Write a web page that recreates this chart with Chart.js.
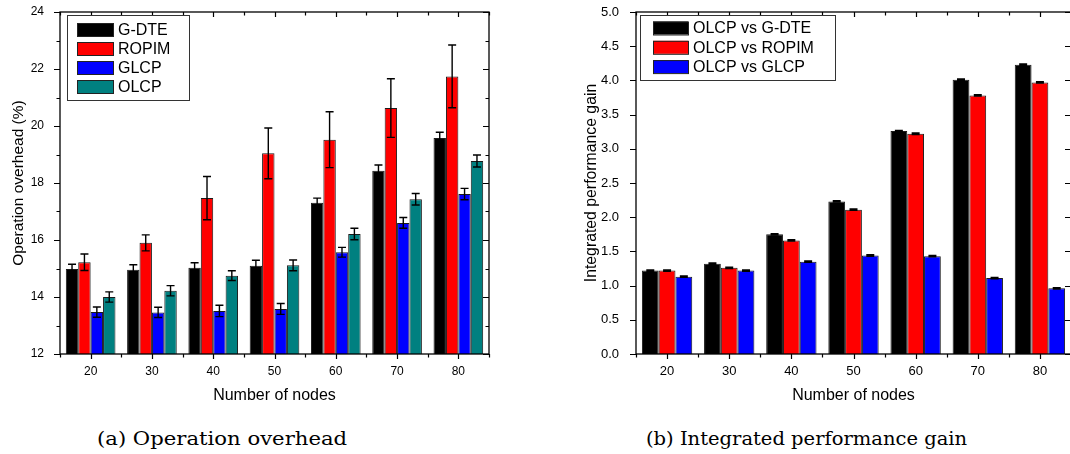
<!DOCTYPE html>
<html>
<head>
<meta charset="utf-8">
<script src="https://cdn.jsdelivr.net/npm/chart.js@4.4.1/dist/chart.umd.min.js"></script>
<style>
  html, body { margin: 0; padding: 0; background: #fff; overflow: hidden; }
  body { width: 1070px; height: 454px; position: relative; }
  .panel { position: absolute; top: 0; height: 410px; }
  #panel-a { left: 0; width: 540px; }
  #panel-b { left: 540px; width: 545px; }
  .caption {
    position: absolute; top: 428px; white-space: nowrap;
    font-family: "DejaVu Serif", "Liberation Serif", serif; font-size: 18px; color: #000;
    transform-origin: left center;
  }
</style>
</head>
<body>
<div class="panel" id="panel-a"><canvas id="overheadChart"></canvas></div>
<div class="panel" id="panel-b"><canvas id="gainChart"></canvas></div>
<div class="caption" id="cap-a" data-left="97" data-right="347">(a) Operation overhead</div>
<div class="caption" id="cap-b" data-left="646" data-right="967">(b) Integrated performance gain</div>

<script>
const nodes = ['20', '30', '40', '50', '60', '70', '80'];

// Operation overhead (%) with error bars
const gdte     = [14.98, 14.96, 15.03, 15.10, 17.31, 18.43, 19.58];
const gdteErr  = [0.17, 0.17, 0.17, 0.19, 0.16, 0.20, 0.20];
const ropim    = [15.22, 15.90, 17.47, 19.04, 19.52, 20.63, 21.74];
const ropimErr = [0.29, 0.28, 0.76, 0.89, 0.98, 1.03, 1.10];
const glcp     = [13.47, 13.46, 13.51, 13.58, 15.57, 16.60, 17.61];
const glcpErr  = [0.18, 0.18, 0.20, 0.19, 0.17, 0.19, 0.20];
const olcp     = [14.00, 14.22, 14.75, 15.11, 16.21, 17.43, 18.77];
const olcpErr  = [0.18, 0.18, 0.17, 0.19, 0.20, 0.20, 0.21];

// Integrated performance gain of OLCP
const gainGdte  = [1.22, 1.32, 1.75, 2.23, 3.26, 4.01, 4.23];
const gainRopim = [1.22, 1.26, 1.66, 2.11, 3.22, 3.78, 3.97];
const gainGlcp  = [1.13, 1.22, 1.35, 1.44, 1.43, 1.11, 0.96];
const gainErr   = [0.01, 0.01, 0.01, 0.01, 0.01, 0.01, 0.01];

const FONT = '"Liberation Sans", Arial, sans-serif';

// frame box, tick marks on all four sides, error bars and the inset legend
const framePlugin = {
    id: 'frame',
    afterDatasetsDraw(chart) {
        const ctx = chart.ctx;
        const y = chart.scales.y;
        ctx.save();
        ctx.strokeStyle = '#000';
        ctx.lineWidth = 1.4;
        chart.data.datasets.forEach((ds, i) => {
            if (!ds.errorBars) return;
            chart.getDatasetMeta(i).data.forEach((bar, j) => {
                const top = y.getPixelForValue(ds.data[j] + ds.errorBars[j]);
                const bot = y.getPixelForValue(ds.data[j] - ds.errorBars[j]);
                ctx.beginPath();
                ctx.moveTo(bar.x, top); ctx.lineTo(bar.x, bot);
                ctx.moveTo(bar.x - 4, top); ctx.lineTo(bar.x + 4, top);
                ctx.moveTo(bar.x - 4, bot); ctx.lineTo(bar.x + 4, bot);
                ctx.stroke();
            });
        });
        ctx.restore();
    },
    afterDraw(chart, args, opts) {
        const ctx = chart.ctx;
        const {left, right, top, bottom} = chart.chartArea;
        const x = chart.scales.x;
        const y = chart.scales.y;
        ctx.save();
        ctx.strokeStyle = '#000';
        ctx.lineWidth = 1.3;
        ctx.strokeRect(left, top, right - left, bottom - top);

        ctx.lineWidth = 1.2;
        ctx.beginPath();
        y.ticks.forEach(t => {
            const py = Math.round(y.getPixelForValue(t.value)) + 0.5;
            const major = Math.abs(t.value / opts.majorStep - Math.round(t.value / opts.majorStep)) < 1e-6;
            const len = major ? 6 : 3.5;
            ctx.moveTo(left - len, py); ctx.lineTo(left, py);
            ctx.moveTo(right, py); ctx.lineTo(right - len, py);
        });
        const n = chart.data.labels.length;
        for (let k = 0; k <= 2 * n; k++) {
            const px = Math.round(x.getPixelForValue(k / 2 - 0.5)) + 0.5;
            const len = k % 2 ? 5 : 3.5;
            ctx.moveTo(px, bottom); ctx.lineTo(px, bottom + len);
            ctx.moveTo(px, top); ctx.lineTo(px, top + len);
        }
        ctx.stroke();

        // legend
        const lg = opts.legend;
        ctx.fillStyle = '#fff';
        ctx.fillRect(lg.x, lg.y, lg.w, lg.h);
        ctx.strokeStyle = '#333';
        ctx.lineWidth = 1;
        ctx.strokeRect(lg.x + 0.5, lg.y + 0.5, lg.w, lg.h);
        ctx.font = '16px ' + FONT;
        ctx.textBaseline = 'middle';
        chart.data.datasets.forEach((ds, i) => {
            const cy = lg.y + lg.first + i * lg.row;
            ctx.fillStyle = ds.backgroundColor;
            ctx.fillRect(lg.sx, cy - 6.5, lg.sw, 13);
            ctx.strokeStyle = '#222';
            ctx.strokeRect(lg.sx + 0.5, cy - 6.5 + 0.5, lg.sw, 13);
            ctx.fillStyle = '#000';
            ctx.fillText(ds.label, lg.tx, cy + 1);
        });
        ctx.restore();
    }
};

function barSet(label, data, errs, color) {
    return {
        label: label,
        data: data,
        errorBars: errs,
        backgroundColor: color,
        borderColor: '#1a1a1a',
        borderWidth: 1,
        categoryPercentage: 0.81,
        barPercentage: 1.0
    };
}

function makeChart(id, datasets, cfg) {
    return new Chart(document.getElementById(id), {
        type: 'bar',
        data: { labels: nodes, datasets: datasets },
        options: {
            responsive: true,
            maintainAspectRatio: false,
            animation: false,
            layout: { padding: { top: 12, right: cfg.padRight, left: 0, bottom: 0 } },
            plugins: {
                legend: { display: false },
                tooltip: { enabled: false },
                frame: { majorStep: cfg.majorStep, legend: cfg.legend }
            },
            scales: {
                x: {
                    grid: { display: false },
                    border: { display: false },
                    ticks: { color: '#000', font: { family: FONT, size: cfg.tickSize }, padding: 2, maxRotation: 0 },
                    title: { display: true, text: 'Number of nodes', color: '#000',
                             font: { family: FONT, size: 16 }, padding: { top: 0, bottom: 5 } },
                    afterFit(s) { s.height = 56; }
                },
                y: {
                    min: cfg.min,
                    max: cfg.max,
                    grid: { display: false },
                    border: { display: false },
                    ticks: {
                        stepSize: cfg.minorStep,
                        color: '#000',
                        font: { family: FONT, size: cfg.tickSize },
                        padding: cfg.tickPad,
                        callback: cfg.tickLabel
                    },
                    title: { display: true, text: cfg.yTitle, color: '#000',
                             font: { family: FONT, size: cfg.titleSize }, padding: { top: cfg.titlePad, bottom: 0 } },
                    // fixed axis width; no extra room above the top label
                    afterFit(s) { s.width = cfg.axisWidth; s.paddingTop = 0; s.paddingBottom = 0; }
                }
            }
        },
        plugins: [framePlugin]
    });
}

makeChart('overheadChart', [
    barSet('G-DTE', gdte, gdteErr, '#000000'),
    barSet('ROPIM', ropim, ropimErr, '#ff0000'),
    barSet('GLCP', glcp, glcpErr, '#0000ff'),
    barSet('OLCP', olcp, olcpErr, '#008080')
], {
    min: 12, max: 24, minorStep: 1, majorStep: 2,
    tickLabel: v => (v % 2 === 0 ? String(v) : ''),
    tickSize: 12, tickPad: 8, axisWidth: 60, padRight: 51,
    yTitle: 'Operation overhead (%)', titleSize: 15.5, titlePad: 9,
    legend: { x: 67, y: 15, w: 122, h: 85, first: 14.5, row: 19, sx: 77, sw: 36, tx: 118 }
});

makeChart('gainChart', [
    barSet('OLCP vs G-DTE', gainGdte, gainErr, '#000000'),
    barSet('OLCP vs ROPIM', gainRopim, gainErr, '#ff0000'),
    barSet('OLCP vs GLCP', gainGlcp, gainErr, '#0000ff')
], {
    min: 0, max: 5, minorStep: 0.25, majorStep: 0.5,
    tickLabel: v => (Math.abs(v * 2 - Math.round(v * 2)) < 1e-6 ? v.toFixed(1) : ''),
    tickSize: 13, tickPad: 9, axisWidth: 96, padRight: 14,
    yTitle: 'Integrated performance gain', titleSize: 15.8, titlePad: 42,
    legend: { x: 100, y: 15, w: 195, h: 65, first: 13, row: 19.3, sx: 113, sw: 35, tx: 153 }
});

// stretch each caption to its span
document.querySelectorAll('.caption').forEach(el => {
    const l = +el.dataset.left, r = +el.dataset.right;
    el.style.left = l + 'px';
    const w = el.getBoundingClientRect().width;
    el.style.transform = 'scaleX(' + ((r - l) / w).toFixed(3) + ')';
});
</script>
</body>
</html>
